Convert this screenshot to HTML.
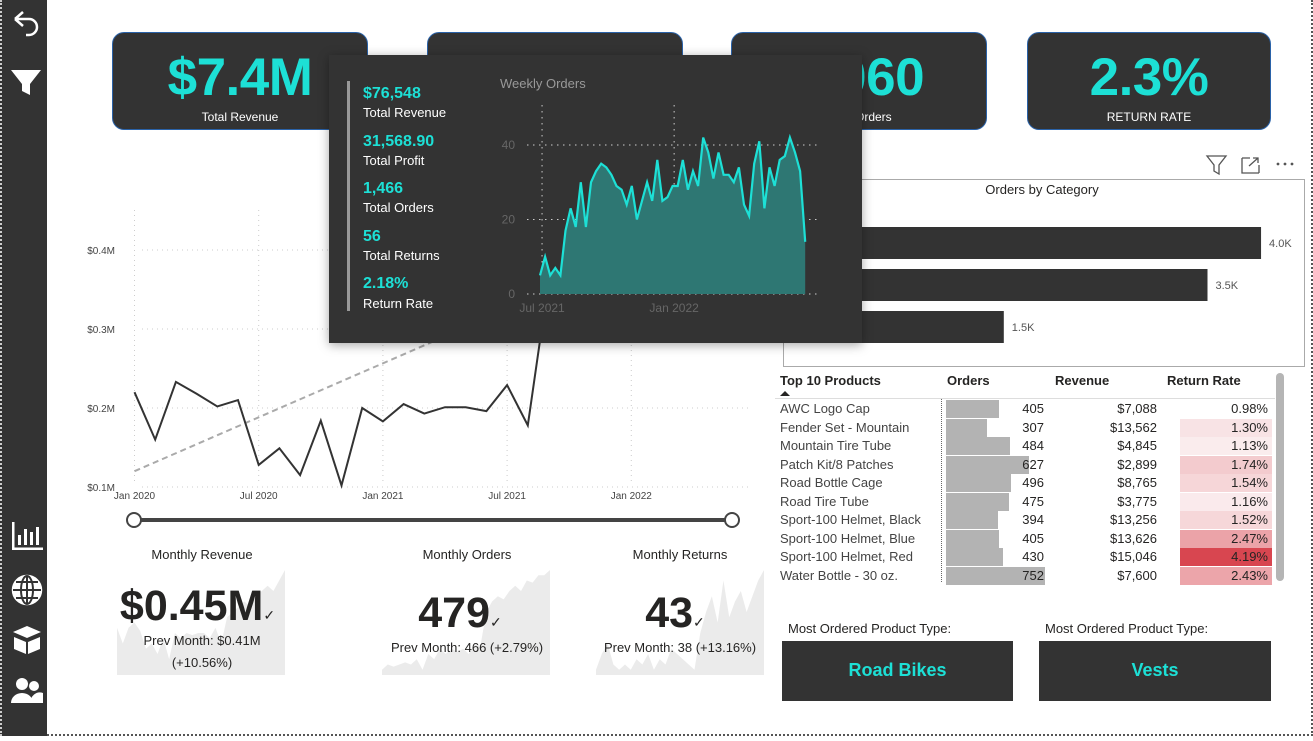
<!DOCTYPE html>
<html><head><meta charset="utf-8">
<style>
*{box-sizing:border-box;margin:0;padding:0}
body{width:1313px;height:736px;background:#fff;font-family:"Liberation Sans",sans-serif;position:relative;overflow:hidden;color:#252423}
.abs{position:absolute}
.kpi{position:absolute;top:32px;height:98px;background:#333;border:1px solid #2a62a8;border-radius:12px;text-align:center;color:#fff}
.kpi .v{color:#1de0d6;font-weight:bold;font-size:53px;line-height:60px;margin-top:15px;letter-spacing:-0.5px}
.kpi .l{font-size:12px;margin-top:2px}
.tt-v{position:absolute;left:363px;color:#1de0d6;font-weight:bold;font-size:16px}
.tt-l{position:absolute;left:363px;color:#fff;font-size:13px}
.th{position:absolute;top:373px;font-weight:bold;font-size:13px}
.ttl{position:absolute;font-size:13px;color:#252423;text-align:center}
.mo{position:absolute;top:641px;height:60px;background:#333;color:#1de0d6;font-weight:bold;font-size:18px;line-height:58px;text-align:center}
</style></head><body>
<div class="abs" style="left:0;top:0;width:1313px;height:736px;border-right:2px dotted #555;border-bottom:2px dotted #555"></div>
<div class="abs" style="left:0;top:0;width:47px;height:736px;background:#333;border-left:2px dotted #ccc">
<svg width="47" height="736">
<g fill="none" stroke="#fff" stroke-width="2.5"><path d="M13 19 L21 12 M13 19 L21 26 M13 19 H27 a8 8 0 0 1 0 16 h-3"/></g>
<path d="M9 70 H39 L28 84 V95 L20 91 V84 Z" fill="#fff"/>
<g fill="#fff"><rect x="10" y="522" width="2.5" height="28"/><rect x="10" y="547.5" width="31" height="2.5"/><rect x="16" y="535" width="3" height="10"/><rect x="22" y="529" width="3" height="16"/><rect x="28" y="532" width="3" height="13"/><rect x="34" y="527" width="3" height="18"/></g>
<g fill="none" stroke="#fff" stroke-width="2.5"><circle cx="25" cy="590" r="14" fill="#fff"/><path d="M11 590 H39 M25 576 V604 M14 582 H36 M14 598 H36" stroke="#333" stroke-width="2"/><ellipse cx="25" cy="590" rx="6" ry="14" stroke="#333" stroke-width="2"/></g>
<g fill="#fff"><path d="M11 632 L25 626 L39 632 L25 638 Z"/><path d="M12 637 L24 642 V654 L12 649 Z M38 637 L26 642 V654 L38 649 Z"/></g>
<g fill="#fff"><circle cx="20" cy="684" r="6"/><circle cx="32" cy="686" r="5"/><path d="M9 703 a11 10 0 0 1 22 0 Z M29 703 a9 9 0 0 1 12 -10 l0 10 Z"/></g>
</svg></div>

<!-- KPI cards -->
<div class="kpi" style="left:112px;width:256px"><div class="v">$7.4M</div><div class="l">Total Revenue</div></div>
<div class="kpi" style="left:427px;width:256px"><div class="v">$3.1M</div><div class="l">Total Profit</div></div>
<div class="kpi" style="left:731px;width:256px"><div class="v">5,060</div><div class="l">Total Orders</div></div>
<div class="kpi" style="left:1027px;width:244px"><div class="v">2.3%</div><div class="l">RETURN RATE</div></div>

<!-- revenue line chart -->
<svg id="lc" class="abs" style="left:60px;top:180px" width="700" height="360"></svg>

<!-- orders by category -->
<svg class="abs" style="left:1200px;top:152px" width="110" height="26">
<path d="M7 4 H26 L19 13 V22 L14 19 V13 Z" fill="none" stroke="#555" stroke-width="1.3"/>
<g fill="none" stroke="#555" stroke-width="1.3"><path d="M42 6 V21 H59 M42 6 H50 M59 13 V21 M49 14 L58 6 M53 6 H58 V11"/></g>
<g fill="#555"><circle cx="78" cy="12" r="1.4"/><circle cx="85" cy="12" r="1.4"/><circle cx="92" cy="12" r="1.4"/></g>
</svg>
<div class="abs" style="left:783px;top:179px;width:522px;height:188px;border:1px solid #aaa"></div>
<div class="ttl" style="left:942px;top:182px;width:200px">Orders by Category</div>
<svg id="bc" class="abs" style="left:784px;top:200px" width="520" height="160"></svg>

<!-- table -->
<div class="th" style="left:780px">Top 10 Products</div>
<div class="abs" style="left:780px;top:391px;width:0;height:0;border-left:5px solid transparent;border-right:5px solid transparent;border-bottom:5px solid #252423"></div>
<div class="th" style="left:947px">Orders</div>
<div class="th" style="left:1055px">Revenue</div>
<div class="th" style="left:1167px">Return Rate</div>
<div class="abs" style="left:775px;top:398px;width:500px;height:1px;background:#ddd"></div>
<div class="abs" style="left:941px;top:399px;width:1px;height:183px;border-left:1px dotted #666"></div>
<div class="abs" style="left:1276px;top:373px;width:8px;height:208px;background:#b5b5b5;border-radius:4px"></div>
<div id="tb"></div>

<!-- bottom monthly cards -->
<svg id="sp" class="abs" style="left:0;top:560px" width="780" height="120"></svg>
<div class="ttl" style="left:102px;top:547px;width:200px">Monthly Revenue</div>
<div class="abs" style="left:110px;top:582px;width:175px;text-align:center;font-weight:bold;font-size:43px;color:#252423">$0.45M<span style="font-size:14px;font-weight:normal">✓</span></div>
<div class="ttl" style="left:102px;top:630px;width:200px;line-height:22px">Prev Month: $0.41M<br>(+10.56%)</div>
<div class="ttl" style="left:367px;top:547px;width:200px">Monthly Orders</div>
<div class="abs" style="left:380px;top:589px;width:160px;text-align:center;font-weight:bold;font-size:43px">479<span style="font-size:14px;font-weight:normal">✓</span></div>
<div class="ttl" style="left:367px;top:640px;width:200px">Prev Month: 466 (+2.79%)</div>
<div class="ttl" style="left:580px;top:547px;width:200px">Monthly Returns</div>
<div class="abs" style="left:600px;top:589px;width:150px;text-align:center;font-weight:bold;font-size:43px">43<span style="font-size:14px;font-weight:normal">✓</span></div>
<div class="ttl" style="left:580px;top:640px;width:200px">Prev Month: 38 (+13.16%)</div>

<!-- most ordered -->
<div class="abs" style="left:788px;top:621px;font-size:13px">Most Ordered Product Type:</div>
<div class="mo" style="left:782px;width:231px">Road Bikes</div>
<div class="abs" style="left:1045px;top:621px;font-size:13px">Most Ordered Product Type:</div>
<div class="mo" style="left:1039px;width:232px">Vests</div>

<!-- tooltip -->
<div class="abs" style="left:329px;top:55px;width:533px;height:288px;background:#333;box-shadow:0 2px 10px rgba(0,0,0,.35)">
</div>
<div class="abs" style="left:347px;top:81px;width:3px;height:230px;background:#999"></div>
<div class="tt-v" style="top:85px">$76,548</div>
<div class="tt-l" style="top:105px">Total Revenue</div>
<div class="tt-v" style="top:133px">31,568.90</div>
<div class="tt-l" style="top:153px">Total Profit</div>
<div class="tt-v" style="top:180px">1,466</div>
<div class="tt-l" style="top:200px">Total Orders</div>
<div class="tt-v" style="top:228px">56</div>
<div class="tt-l" style="top:248px">Total Returns</div>
<div class="tt-v" style="top:275px">2.18%</div>
<div class="tt-l" style="top:296px">Return Rate</div>
<div class="abs" style="left:500px;top:76px;font-size:13px;color:#999">Weekly Orders</div>
<svg id="wc" class="abs" style="left:329px;top:55px" width="533" height="288"></svg>

<script>
const NS="http://www.w3.org/2000/svg";
function mk(p,t,a){const e=document.createElementNS(NS,t);for(const k in a)e.setAttribute(k,a[k]);p.appendChild(e);return e;}

// ---- monthly revenue line chart ----
const revMonths=["Jan 2020","Feb 2020","Mar 2020","Apr 2020","May 2020","Jun 2020","Jul 2020","Aug 2020","Sep 2020","Oct 2020","Nov 2020","Dec 2020","Jan 2021","Feb 2021","Mar 2021","Apr 2021","May 2021","Jun 2021","Jul 2021","Aug 2021","Sep 2021","Oct 2021","Nov 2021","Dec 2021","Jan 2022","Feb 2022","Mar 2022","Apr 2022","May 2022","Jun 2022"];
const revValues=[0.220,0.160,0.233,0.218,0.202,0.210,0.128,0.149,0.115,0.184,0.102,0.200,0.183,0.205,0.193,0.201,0.201,0.196,0.229,0.178,0.36,0.38,0.40,0.41,0.42,0.40,0.43,0.44,0.42,0.45];
const revTrend=[0.12,0.45];
const revTicks=[0.1,0.2,0.3,0.4];
const revTickLabels=["$0.1M","$0.2M","$0.3M","$0.4M"];
const revXTickIdx=[0,6,12,18,24];
(function(){
 const s=document.getElementById('lc');
 const X=i=>74.5+i*20.7, Y=v=>307-(v-0.1)/0.3*237;
 revXTickIdx.forEach(i=>{const l=mk(s,'line',{x1:X(i),x2:X(i),y1:30,y2:305,stroke:'#ccc','stroke-dasharray':'1 4'});
 
 
 const t=mk(s,'text',{x:X(i),y:319,'font-size':10,'text-anchor':'middle',fill:'#444'});t.textContent=revMonths[i];
 
 });
 revTicks.forEach((v,k)=>{const l=mk(s,'line',{x1:82,x2:690,y1:Y(v),y2:Y(v),stroke:'#ccc','stroke-dasharray':'1 4'});
 
 
 const t=mk(s,'text',{x:55,y:Y(v)+4,'font-size':10,'text-anchor':'end',fill:'#444'});t.textContent=revTickLabels[k];
 
 });
 const tr=mk(s,'line',{x1:X(0),y1:Y(revTrend[0]),x2:X(revValues.length-1),y2:Y(revTrend[1]),stroke:'#aaa','stroke-width':2,'stroke-dasharray':'6 4'});
 
 
 const pl=mk(s,'polyline',{points:revValues.map((v,i)=>X(i)+','+Y(v)).join(' '),fill:'none',stroke:'#333','stroke-width':2});
 
 
 const sl=mk(s,'line',{x1:74,x2:672,y1:340,y2:340,stroke:'#444','stroke-width':4});
 
 
 [74,672].forEach(x=>{const c=mk(s,'circle',{cx:x,cy:340,r:7,fill:'#fff',stroke:'#444','stroke-width':2});
 
 });
})();

// ---- orders by category ----
const catValues=[4010,3500,1560];
const catLabels=["4.0K","3.5K","1.5K"];
(function(){
 const s=document.getElementById('bc');
 const W=v=>v*0.105, x0=56;
 catValues.forEach((v,i)=>{const y=27+i*42;
  const r=mk(s,'rect',{x:x0,y:y,width:W(v),height:32,fill:'#333'});
  
  
  const t=mk(s,'text',{x:x0+W(v)+8,y:y+20,'font-size':11,fill:'#555'});t.textContent=catLabels[i];
  
  });
})();

// ---- table ----
const prodNames=["AWC Logo Cap","Fender Set - Mountain","Mountain Tire Tube","Patch Kit/8 Patches","Road Bottle Cage","Road Tire Tube","Sport-100 Helmet, Black","Sport-100 Helmet, Blue","Sport-100 Helmet, Red","Water Bottle - 30 oz."];
const prodOrders=[405,307,484,627,496,475,394,405,430,752];
const prodRevenue=["$7,088","$13,562","$4,845","$2,899","$8,765","$3,775","$13,256","$13,626","$15,046","$7,600"];
const prodReturn=[0.98,1.30,1.13,1.74,1.54,1.16,1.52,2.47,4.19,2.43];
(function(){
 const tb=document.getElementById('tb');
 prodNames.forEach((n,i)=>{const y=400+i*18.5;
  const row=document.createElement('div');
  
  
  row.style.cssText=`position:absolute;left:0;top:${y}px;width:1px;height:18px`;
  const r=prodReturn[i], f=Math.max(0,Math.min(1,(r-0.98)/(4.19-0.98)));
  const c=`rgb(${Math.round(252-f*36)},${Math.round(244-f*174)},${Math.round(245-f*165)})`;
  row.innerHTML=`<div style="position:absolute;left:780px;top:1px;font-size:13px;color:#444;white-space:nowrap">${n}</div>
<div style="position:absolute;left:946px;top:0;width:${prodOrders[i]*0.132}px;height:18px;background:#b3b3b3"></div>
<div style="position:absolute;left:980px;width:64px;top:1px;font-size:13px;text-align:right">${prodOrders[i]}</div>
<div style="position:absolute;left:1060px;width:97px;top:1px;font-size:13px;text-align:right">${prodRevenue[i]}</div>
<div style="position:absolute;left:1180px;width:92px;top:0;height:18px;background:${r<1?'#fff':c}"></div>
<div style="position:absolute;left:1180px;width:88px;top:1px;font-size:13px;text-align:right">${r.toFixed(2)}%</div>`;
  tb.appendChild(row);});
})();

// ---- sparklines ----
const spRevenue=[0.45,0.3,0.45,0.5,0.42,0.25,0.3,0.2,0.35,0.15,0.4,0.35,0.4,0.38,0.4,0.4,0.35,0.45,0.3,0.55,0.6,0.65,0.7,0.65,0.75,0.8,0.85,0.8,0.9,1.0];
const spOrders=[0.05,0.1,0.08,0.1,0.12,0.1,0.15,0.05,0.2,0.15,0.25,0.2,0.25,0.22,0.25,0.2,0.3,0.28,0.6,0.7,0.75,0.72,0.8,0.85,0.8,0.9,0.88,0.95,0.95,1.0];
const spReturns=[0.05,0.2,0.3,0.1,0.05,0.1,0.05,0.15,0.1,0.2,0.05,0.15,0.1,0.25,0.2,0.15,0.1,0.05,0.4,0.6,0.75,0.5,0.9,0.55,0.7,0.8,0.6,0.75,0.9,1.0];
(function(){
 const s=document.getElementById('sp');
 [[spRevenue,117,'revenue-sparkline'],[spOrders,382,'orders-sparkline'],[spReturns,596,'returns-sparkline']].forEach(([d,x0,nm])=>{
  const w=168,base=115,h=105, X=i=>x0+i*w/(d.length-1), Y=v=>base-v*h;
  const p=mk(s,'path',{d:'M'+x0+','+base+' '+d.map((v,i)=>'L'+X(i)+','+Y(v)).join(' ')+' L'+(x0+w)+','+base+' Z',fill:'#ebebeb'});
  
  });
})();

// ---- weekly orders tooltip chart ----
const wkValues=[5,10,5,7,5,17,23,18,30,18,30,33,35,34,32,29,28,24,29,20,25,30,25,36,25,26,29,29,36,28,33,29,42,38,31,38,32,32,30,34,24,21,35,41,23,34,29,36,37,42,38,33,14];
const wkTicks=[0,20,40];
const wkXLabels=["Jul 2021","Jan 2022"];
const wkXIdx=[0.4,26.3];
(function(){
 const s=document.getElementById('wc');
 const X=j=>211+j*5.1, Y=v=>239-v*3.725;
 wkTicks.forEach(v=>{const l=mk(s,'line',{x1:198,x2:492,y1:Y(v),y2:Y(v),stroke:'#ccc','stroke-dasharray':'1.5 4.5'});
  
  
  const t=mk(s,'text',{x:186,y:Y(v)+4,'font-size':12,'text-anchor':'end',fill:'#666'});t.textContent=v;
  
  });
 wkXIdx.forEach((j,k)=>{const l=mk(s,'line',{x1:X(j),x2:X(j),y1:50,y2:239,stroke:'#ccc','stroke-dasharray':'1.5 4.5'});
  
  
  const t=mk(s,'text',{x:X(j),y:257,'font-size':12,'text-anchor':'middle',fill:'#666'});t.textContent=wkXLabels[k];
  
  });
 const pts=wkValues.map((v,j)=>X(j)+','+Y(v));
 const a=mk(s,'path',{d:'M'+X(0)+','+Y(0)+' L'+pts.join(' L')+' L'+X(wkValues.length-1)+','+Y(0)+' Z',fill:'#2e7773'});
 
 
 const l=mk(s,'polyline',{points:pts.join(' '),fill:'none',stroke:'#1de0d6','stroke-width':2.2});
 
 
})();
</script>
</body></html>
